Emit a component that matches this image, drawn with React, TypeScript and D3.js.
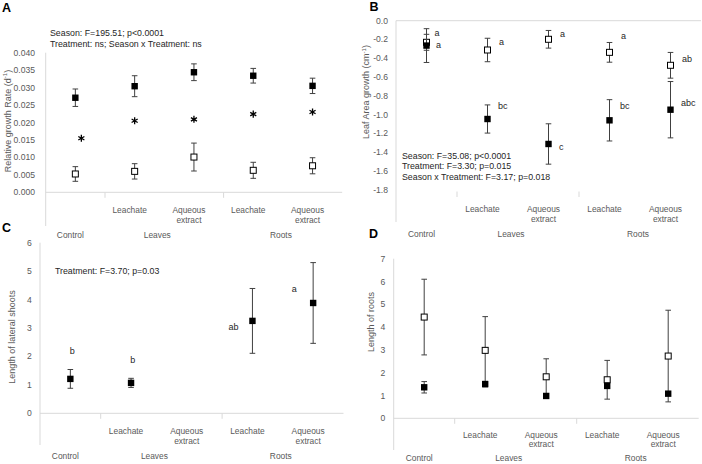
import React from 'react';
import * as d3 from 'd3';

// ---------- shared categories ----------
const categories = ['', 'Leachate', 'Aqueous\nextract', 'Leachate', 'Aqueous\nextract'];
const groups = ['Control', 'Leaves', 'Roots'];

// ---------- Panel A: relative growth rate ----------
const aTicks = [0, 0.005, 0.01, 0.015, 0.02, 0.025, 0.03, 0.035, 0.04];
const aFilled = [0.0271, 0.0304, 0.0344, 0.0334, 0.0305];
const aFilledErr = [0.0025, 0.0030, 0.0024, 0.0021, 0.0022];
const aOpen = [0.00525, 0.0060, 0.0101, 0.0063, 0.0076];
const aOpenErr = [0.0021, 0.0022, 0.0040, 0.0023, 0.0023];
const aStars = [0.0155, 0.0205, 0.0209, 0.0224, 0.0230];
const aNotes = ['Season: F=195.51; p<0.0001', 'Treatment: ns; Season x Treatment: ns'];

// ---------- Panel B: leaf area growth ----------
const bTicks = [0, -0.2, -0.4, -0.6, -0.8, -1.0, -1.2, -1.4, -1.6, -1.8];
const bOpen = [-0.23, -0.312, -0.198, -0.337, -0.475];
const bOpenErr = [0.085, 0.125, 0.094, 0.105, 0.137];
const bFilled = [-0.265, -1.047, -1.313, -1.061, -0.948];
const bFilledErr = [0.18, 0.15, 0.215, 0.22, 0.30];
const bOpenLetters = ['a', 'a', 'a', 'a', 'ab'];
const bOpenLetterY = [-0.134, -0.23, -0.142, -0.163, -0.411];
const bFilledLetters = ['a', 'bc', 'c', 'bc', 'abc'];
const bFilledLetterY = [-0.259, -0.908, -1.342, -0.908, -0.873];
const bNotes = ['Season: F=35.08; p<0.0001', 'Treatment: F=3.30; p=0.015', 'Season x Treatment: F=3.17; p=0.018'];

// ---------- Panel C: length of lateral shoots ----------
const cTicks = [0, 1, 2, 3, 4, 5, 6];
const cFilled: (number | null)[] = [1.21, 1.07, null, 3.25, 3.88];
const cFilledErr: (number | null)[] = [0.33, 0.16, null, 1.14, 1.42];
const cLetters = ['b', 'b', '', 'ab', 'a'];
const cLetterY = [2.2, 1.87, 0, 3.05, 4.38];
const cNotes = ['Treatment: F=3.70; p=0.03'];

// ---------- Panel D: length of roots ----------
const dTicks = [0, 1, 2, 3, 4, 5, 6, 7];
const dOpen = [4.44, 2.98, 1.82, 1.69, 2.73];
const dOpenErr = [1.66, 1.48, 0.79, 0.85, 2.01];
const dFilled = [1.36, 1.50, 0.98, 1.42, 1.08];
const dFilledErr = [0.25, 0.12, 0.05, 0.08, 0.08];

const FONT = "'Liberation Sans', Arial, Helvetica, sans-serif";
const GRAY = '#595959';
const AXIS = '#d9d9d9';
const ERR = '#404040';
const INK = '#262626';

type Series = { values: (number | null)[]; errs: (number | null)[]; filled: boolean };

type PanelProps = {
  letter: string;
  letterPos: [number, number];
  x0: number;
  step: number;
  domain: [number, number];
  range: [number, number];
  ticks: number[];
  fmt: (v: number) => string;
  tickRight: number;
  axisValue: number;
  leftTop: number;
  leftBottom: number;
  catBase: number;
  catGap?: number;
  groupGap?: number;
  title: string;
  titleSup: string;
  titleEnd: string;
  titlePos: [number, number];
  series: Series[];
  children?: (x: (i: number) => number, y: d3.ScaleLinear<number, number>, band: d3.ScaleBand<string>) => React.ReactNode;
};

function Panel(p: PanelProps) {
  const y = d3.scaleLinear().domain(p.domain).range(p.range);
  const band = d3
    .scaleBand<string>()
    .domain(d3.range(categories.length).map(String))
    .range([p.x0, p.x0 + categories.length * p.step])
    .padding(0);
  const cx = (i: number) => (band(String(i)) as number) + band.bandwidth() / 2;
  const right = p.x0 + categories.length * p.step;
  const axisY = y(p.axisValue);
  const catGap = p.catGap ?? 18;
  const groupGap = p.groupGap ?? 42.5;

  const groupX = [cx(0) - 5, (band('2') as number) - 7, (band('4') as number) - 2];

  return (
    <g fontFamily={FONT}>
      <text x={p.letterPos[0]} y={p.letterPos[1]} fontSize={12.5} fontWeight="bold" fill="#000">
        {p.letter}
      </text>
      {/* left axis line */}
      <line x1={p.x0} x2={p.x0} y1={p.leftTop} y2={p.leftBottom} stroke={AXIS} strokeWidth={1} />
      {/* horizontal axis line */}
      <line x1={p.x0} x2={right} y1={axisY} y2={axisY} stroke={AXIS} strokeWidth={1} />
      {/* group separators */}
      {[1, 3].map((i) => (
        <line
          key={i}
          x1={band(String(i))}
          x2={band(String(i))}
          y1={p.catBase}
          y2={p.catBase + 5.5}
          stroke={AXIS}
          strokeWidth={1}
        />
      ))}
      {/* y tick labels */}
      {p.ticks.map((t) => (
        <text
          key={t}
          x={p.tickRight}
          y={y(t)}
          dy="0.35em"
          textAnchor="end"
          fontSize={8.6}
          fill={GRAY}
        >
          {p.fmt(t)}
        </text>
      ))}
      {/* y axis title */}
      <text
        transform={`translate(${p.titlePos[0]},${p.titlePos[1]}) rotate(-90)`}
        textAnchor="middle"
        dy="0.35em"
        fontSize={9}
        fill={GRAY}
      >
        {p.title}
        {p.titleSup && (
          <tspan fontSize={6} dy={-3.5}>
            {p.titleSup}
          </tspan>
        )}
        {p.titleSup && <tspan dy={3.5}>{p.titleEnd}</tspan>}
      </text>
      {/* category labels */}
      {categories.map((c, i) =>
        c.split('\n').map((line, j) => (
          <text
            key={`${i}-${j}`}
            x={cx(i) - 5}
            y={p.catBase + catGap + j * 9.5}
            dy="0.35em"
            textAnchor="middle"
            fontSize={8.4}
            fill={GRAY}
          >
            {line}
          </text>
        ))
      )}
      {groups.map((g, i) => (
        <text
          key={g}
          x={groupX[i]}
          y={p.catBase + groupGap}
          dy="0.35em"
          textAnchor="middle"
          fontSize={8.4}
          fill={GRAY}
        >
          {g}
        </text>
      ))}
      {/* series: error bars then markers */}
      {p.series.map((s, si) => (
        <g key={si}>
          {s.values.map((v, i) => {
            const e = s.errs[i];
            if (v === null || e === null) return null;
            const x = cx(i);
            const y1 = y(v + e);
            const y2 = y(v - e);
            return (
              <g key={i} stroke={ERR} strokeWidth={1}>
                <line x1={x} x2={x} y1={y1} y2={y2} />
                <line x1={x - 2.8} x2={x + 2.8} y1={y1} y2={y1} />
                <line x1={x - 2.8} x2={x + 2.8} y1={y2} y2={y2} />
              </g>
            );
          })}
          {s.values.map((v, i) => {
            if (v === null) return null;
            const x = cx(i);
            const yy = y(v);
            return s.filled ? (
              <rect key={i} x={x - 3.2} y={yy - 3.2} width={6.4} height={6.4} fill="#000" />
            ) : (
              <rect
                key={i}
                x={x - 3}
                y={yy - 3}
                width={6}
                height={6}
                fill="#fff"
                stroke="#000"
                strokeWidth={1}
              />
            );
          })}
        </g>
      ))}
      {p.children && p.children(cx, y, band)}
    </g>
  );
}

const fmt3 = (v: number) => v.toFixed(3);
const fmt1 = (v: number) => v.toFixed(1);
const fmt0 = (v: number) => v.toFixed(0);

export default function App() {
  const asterisk = d3.symbol().type(d3.symbolAsterisk).size(34)();
  return (
    <svg
      width={702}
      height={464}
      viewBox="0 0 702 464"
      style={{ position: 'absolute', left: 0, top: 0, background: '#fff' }}
    >
      <rect x={0} y={0} width={702} height={464} fill="#fff" />
      {/* A */}
      <Panel
        letter="A"
        letterPos={[2, 12]}
        x0={45.7}
        step={59.3}
        domain={[0, 0.04]}
        range={[192.3, 52.7]}
        ticks={aTicks}
        fmt={fmt3}
        tickRight={35}
        axisValue={0}
        leftTop={52.7}
        leftBottom={226}
        catBase={192.3}
        title="Relative growth Rate (d"
        titleSup="-1"
        titleEnd=")"
        titlePos={[7.5, 121]}
        series={[
          { values: aOpen, errs: aOpenErr, filled: false },
          { values: aFilled, errs: aFilledErr, filled: true },
        ]}
      >
        {(cx, y) => (
          <g>
            {aStars.map((v, i) => (
              <path
                key={i}
                d={asterisk as string}
                transform={`translate(${cx(i) + (i === 0 ? 6 : 0)},${y(v)})`}
                fill="none"
                stroke="#000"
                strokeWidth={1.3}
              />
            ))}
            {aNotes.map((t, i) => (
              <text key={i} x={50} y={36 + i * 11} fontSize={8.8} fill={INK}>
                {t}
              </text>
            ))}
          </g>
        )}
      </Panel>
      {/* B */}
      <Panel
        letter="B"
        letterPos={[369.5, 10.5]}
        x0={396}
        step={61}
        domain={[0, -1.8]}
        range={[20.7, 189.7]}
        ticks={bTicks}
        fmt={fmt1}
        tickRight={388}
        axisValue={0}
        leftTop={20.7}
        leftBottom={222}
        catBase={191.5}
        title="Leaf Area growth (cm"
        titleSup="-1"
        titleEnd=")"
        titlePos={[366, 92]}
        series={[
          { values: bOpen, errs: bOpenErr, filled: false },
          { values: bFilled, errs: bFilledErr, filled: true },
        ]}
      >
        {(cx, y) => (
          <g fontSize={9} fill={INK}>
            {bOpenLetters.map((l, i) => (
              <text key={`o${i}`} x={cx(i) + (i === 0 ? 8 : 11.5)} y={y(bOpenLetterY[i])} dy="0.35em">
                {l}
              </text>
            ))}
            {bFilledLetters.map((l, i) => (
              <text key={`f${i}`} x={cx(i) + (i === 0 ? 9.5 : 10.5)} y={y(bFilledLetterY[i])} dy="0.35em">
                {l}
              </text>
            ))}
            {bNotes.map((t, i) => (
              <text key={i} x={402} y={158.5 + i * 10.5} fontSize={8.8}>
                {t}
              </text>
            ))}
          </g>
        )}
      </Panel>
      {/* C */}
      <Panel
        letter="C"
        letterPos={[2, 232]}
        x0={40}
        step={60.7}
        domain={[0, 6]}
        range={[413.3, 242.7]}
        ticks={cTicks}
        fmt={fmt0}
        tickRight={31.7}
        axisValue={0}
        leftTop={242.7}
        leftBottom={445}
        catBase={413.3}
        title="Length of lateral shoots"
        titleSup=""
        titleEnd=""
        titlePos={[11.7, 337]}
        series={[{ values: cFilled, errs: cFilledErr, filled: true }]}
      >
        {(cx, y) => (
          <g fontSize={9} fill={INK}>
            {cLetters.map((l, i) =>
              l ? (
                <text
                  key={i}
                  x={cx(i) + (i < 2 ? 1.8 : -19)}
                  y={y(cLetterY[i])}
                  dy="0.35em"
                  textAnchor="middle"
                >
                  {l}
                </text>
              ) : null
            )}
            {cNotes.map((t, i) => (
              <text key={i} x={55} y={274} fontSize={8.8}>
                {t}
              </text>
            ))}
          </g>
        )}
      </Panel>
      {/* D */}
      <Panel
        letter="D"
        letterPos={[369, 238]}
        x0={393.7}
        step={61}
        domain={[0, 7]}
        range={[418.3, 258.7]}
        ticks={dTicks}
        fmt={fmt0}
        tickRight={385.3}
        axisValue={0}
        leftTop={258.7}
        leftBottom={450}
        catBase={418.3}
        catGap={16.5}
        groupGap={39.5}
        title="Length of roots"
        titleSup=""
        titleEnd=""
        titlePos={[371, 322]}
        series={[
          { values: dOpen, errs: dOpenErr, filled: false },
          { values: dFilled, errs: dFilledErr, filled: true },
        ]}
      />
    </svg>
  );
}
